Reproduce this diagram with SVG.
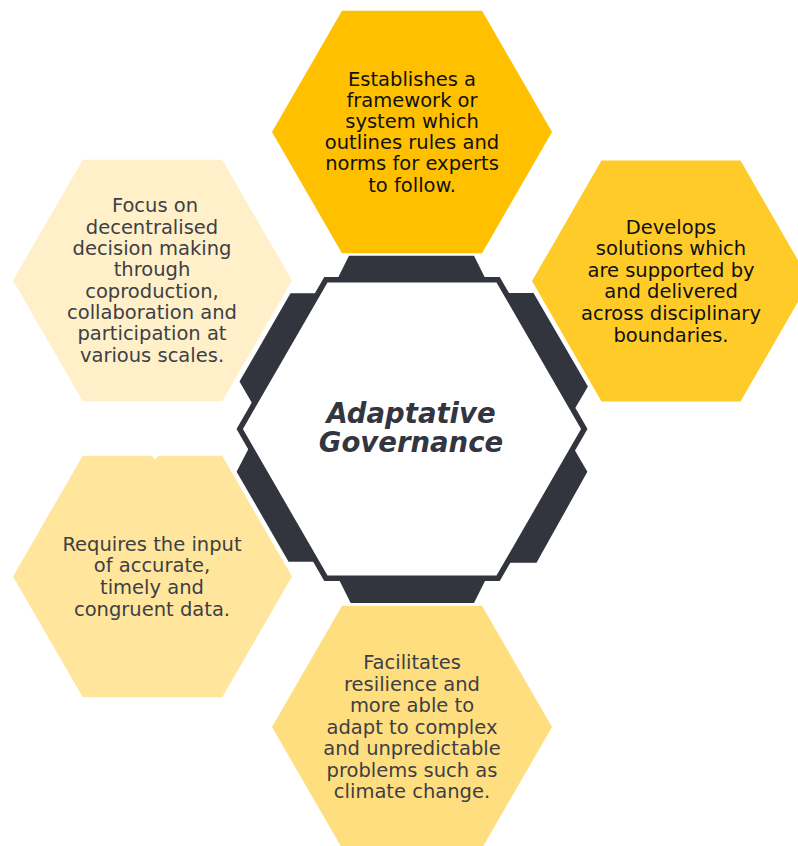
<svg xmlns="http://www.w3.org/2000/svg" width="798" height="846" viewBox="0 0 798 846">
<style>
.t{font-family:"DejaVu Sans","Liberation Sans",sans-serif;font-size:19.5px;text-anchor:middle}
.dk{fill:#111111}
.gr{fill:#3d3f45}
.ring{fill:#32353e}
.ctr{font-family:"DejaVu Sans","Liberation Sans",sans-serif;font-size:27.5px;font-weight:bold;font-style:italic;fill:#333640;text-anchor:middle}
</style>
<rect width="798" height="846" fill="#ffffff"/>
<g id="connectors"/>
<g id="center">
  <polygon class="ring" points="349,255.8 474,255.8 490.6,289 332.4,289"/>
  <polygon class="ring" points="533.5,293 587.9,386.5 570,417 495,293"/>
  <polygon class="ring" points="290.5,293.3 328,293.3 256,410 239.5,381.5"/>
  <polygon class="ring" points="236.6,471.7 288.6,561.7 325,561.7 252,442"/>
  <polygon class="ring" points="587.4,471.7 536.5,562.7 498,562.7 570,442"/>
  <polygon class="ring" points="350.7,603 474,603 490.5,570 334.2,570"/>
  <polygon points="584.3,429 498.15,279.8 325.85,279.8 239.7,429 325.85,578.2 498.15,578.2" fill="#ffffff" stroke="#32353e" stroke-width="5.5" stroke-linejoin="miter"/>
  <text class="ctr" x="411" y="423">Adaptative</text>
  <text class="ctr" x="411" y="452">Governance</text>
</g>
<g id="hex-top">
  <polygon points="552,132 482,10.8 342,10.8 272,132 342,253.2 482,253.2" fill="#ffc000"/>
  <text class="t dk" x="412" y="85.5">Establishes a</text>
  <text class="t dk" x="412" y="106.7">framework or</text>
  <text class="t dk" x="412" y="127.9">system which</text>
  <text class="t dk" x="412" y="149.1">outlines rules and</text>
  <text class="t dk" x="412" y="170.3">norms for experts</text>
  <text class="t dk" x="412" y="191.5">to follow.</text>
</g>
<g id="hex-right">
  <polygon points="810,281 740.5,160.6 601.5,160.6 532,281 601.5,401.4 740.5,401.4" fill="#ffcb29"/>
  <text class="t dk" x="671" y="233.5">Develops</text>
  <text class="t dk" x="671" y="255.1">solutions which</text>
  <text class="t dk" x="671" y="276.7">are supported by</text>
  <text class="t dk" x="671" y="298.3">and delivered</text>
  <text class="t dk" x="671" y="319.9">across disciplinary</text>
  <text class="t dk" x="671" y="341.5">boundaries.</text>
</g>
<g id="hex-upper-left">
  <polygon points="292,280.5 222.25,159.7 82.75,159.7 13,280.5 82.75,401.3 222.25,401.3" fill="#fff0c9"/>
  <text class="t gr" x="155" y="212.3">Focus on</text>
  <text class="t gr" x="152" y="233.6">decentralised</text>
  <text class="t gr" x="152" y="255">decision making</text>
  <text class="t gr" x="152" y="276.3">through</text>
  <text class="t gr" x="152" y="297.7">coproduction,</text>
  <text class="t gr" x="152" y="319">collaboration and</text>
  <text class="t gr" x="152" y="340.4">participation at</text>
  <text class="t gr" x="152" y="361.7">various scales.</text>
</g>
<g id="hex-lower-left">
  <polygon points="292,576.5 222.25,455.7 158.5,455.7 155,459.5 151.5,455.7 82.75,455.7 13,576.5 82.75,697.3 222.25,697.3" fill="#ffe69c"/>
  <text class="t gr" x="152" y="550.7">Requires the input</text>
  <text class="t gr" x="152" y="572.4">of accurate,</text>
  <text class="t gr" x="152" y="594">timely and</text>
  <text class="t gr" x="152" y="615.7">congruent data.</text>
</g>
<g id="hex-bottom">
  <polygon points="552,727 482,605.8 342,605.8 272,727 342,848.2 482,848.2" fill="#ffde7f"/>
  <text class="t gr" x="412" y="669">Facilitates</text>
  <text class="t gr" x="412" y="690.6">resilience and</text>
  <text class="t gr" x="412" y="712.1">more able to</text>
  <text class="t gr" x="412" y="733.7">adapt to complex</text>
  <text class="t gr" x="412" y="755.2">and unpredictable</text>
  <text class="t gr" x="412" y="776.8">problems such as</text>
  <text class="t gr" x="412" y="798.3">climate change.</text>
</g>
</svg>
